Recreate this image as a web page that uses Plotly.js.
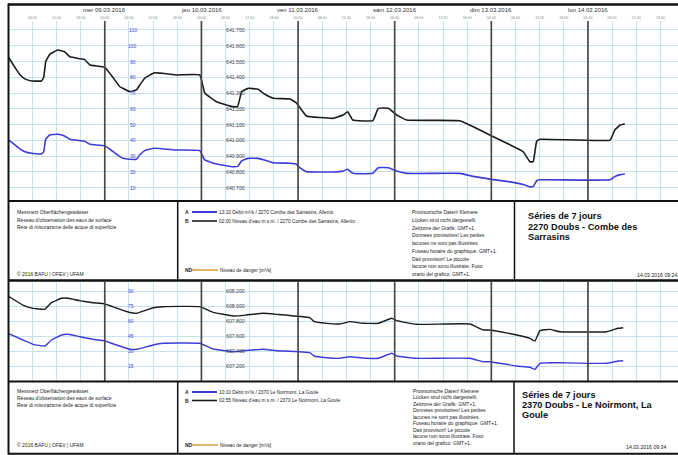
<!DOCTYPE html>
<html><head><meta charset="utf-8">
<script src="https://cdn.plot.ly/plotly-3.0.1.min.js"></script>
<style>html,body{margin:0;padding:0;background:#fff;overflow:hidden}#chart{width:678px;height:455px}</style>
</head><body><div id="chart"></div>
<script>
// ---------- DATA ----------
const upperTime = [
'2016-03-08 00:00','2016-03-08 02:00','2016-03-08 03:00','2016-03-08 04:10','2016-03-08 05:50','2016-03-08 08:15','2016-03-08 08:50','2016-03-08 09:20','2016-03-08 10:20','2016-03-08 12:20','2016-03-08 14:00','2016-03-08 15:20','2016-03-08 17:50','2016-03-08 19:00','2016-03-08 20:20',
'2016-03-09 00:00','2016-03-09 02:00','2016-03-09 03:45','2016-03-09 04:30','2016-03-09 06:15','2016-03-09 07:50','2016-03-09 08:40','2016-03-09 09:55','2016-03-09 12:20','2016-03-09 17:50','2016-03-09 23:35',
'2016-03-10 00:50','2016-03-10 03:45','2016-03-10 07:50','2016-03-10 09:00','2016-03-10 10:00','2016-03-10 11:35','2016-03-10 14:05','2016-03-10 15:40','2016-03-10 17:50','2016-03-10 22:00','2016-03-10 23:30',
'2016-03-11 00:25','2016-03-11 02:05','2016-03-11 08:40','2016-03-11 11:10','2016-03-11 12:20','2016-03-11 13:35','2016-03-11 18:35','2016-03-11 19:55','2016-03-11 22:25',
'2016-03-12 00:30','2016-03-12 03:00','2016-03-12 16:10','2016-03-12 19:30',
'2016-03-13 00:05','2016-03-13 03:50','2016-03-13 07:55','2016-03-13 09:35','2016-03-13 10:25','2016-03-13 11:15','2016-03-13 12:05',
'2016-03-14 05:30','2016-03-14 06:40','2016-03-14 08:00','2016-03-14 09:10'];
const upperFlow = [40.5,36.5,34.5,32.8,31.8,31.4,32.8,41,43.4,43.9,42.8,40.7,39.8,39.4,37.5,
36.6,33,29.7,28.6,28,28,30.7,33.5,35,33.9,33.5,
27.6,25,23.3,23.5,27,28.6,28.6,27.5,25.8,25.5,25,
22.7,20.2,20.0,20.5,21.7,19.1,19.1,22.7,22.7,
20.6,19.1,19.1,17.2,
15.3,14,12,10.6,10.8,14.4,15,
15,17,18.3,18.7];
const upperLevel = [641.53,641.45,641.415,641.39,641.377,641.377,641.40,641.50,641.545,641.573,641.562,641.53,641.518,641.512,641.478,
641.463,641.40,641.34,641.33,641.309,641.32,641.35,641.394,641.429,641.415,641.415,
641.30,641.245,641.214,641.215,641.31,641.33,641.324,641.294,641.267,641.262,641.24,
641.21,641.155,641.14,641.161,641.182,641.129,641.125,641.203,641.203,
641.161,641.129,641.125,641.087,
641.028,640.982,640.928,640.865,640.865,640.993,641.007,
641.002,641.066,641.098,641.104];

const lowerTime = [
'2016-03-08 00:00','2016-03-08 03:40','2016-03-08 06:10','2016-03-08 09:05','2016-03-08 10:45','2016-03-08 13:15','2016-03-08 14:55','2016-03-08 17:45','2016-03-08 21:05',
'2016-03-09 00:00','2016-03-09 02:55','2016-03-09 06:15','2016-03-09 07:55','2016-03-09 12:00','2016-03-09 14:30','2016-03-09 23:35',
'2016-03-10 02:55','2016-03-10 07:55','2016-03-10 11:10','2016-03-10 15:20','2016-03-10 18:40',
'2016-03-11 02:55','2016-03-11 04:00','2016-03-11 07:05','2016-03-11 10:25','2016-03-11 12:50','2016-03-11 16:00','2016-03-11 19:55','2016-03-11 23:15',
'2016-03-12 00:30','2016-03-12 05:25','2016-03-12 18:40','2016-03-12 22:00','2016-03-12 23:40',
'2016-03-13 06:15','2016-03-13 09:35','2016-03-13 10:50','2016-03-13 12:05','2016-03-13 14:35','2016-03-13 17:00',
'2016-03-14 04:40','2016-03-14 07:30','2016-03-14 08:45'];
const lowerFlow = [47.7,41,36.7,35,41,46,46.7,44.3,41.7,
40,36,31.7,31.7,36,37.7,37.7,
32,29.3,30.5,31.7,30.3,
28.3,25,23.3,22.7,24.3,23,22.7,27.7,
25,22.7,22.7,19.3,19.3,
15,13.7,11.7,17.7,18.3,18.3,
17.7,20,20.3];
const lowerLevel = [608.133,608.013,607.969,607.956,608.044,608.103,608.103,608.071,608.044,
608.027,607.973,607.913,607.903,607.977,607.991,607.991,
607.916,607.867,607.88,607.903,607.889,
607.844,607.791,607.769,607.76,607.791,607.771,607.769,607.836,
607.804,607.756,607.76,607.68,607.68,
607.613,607.569,607.533,607.671,607.689,607.657,
607.657,607.703,607.711];

const dayDates = ['2016-03-09','2016-03-10','2016-03-11','2016-03-12','2016-03-13','2016-03-14'];
const dayLabels = ['mer 09.03.2016','jeu 10.03.2016','ven 11.03.2016','sam 12.03.2016','dim 13.03.2016','lun 14.03.2016'];
const upperFlowTicks = [10,20,30,40,50,60,70,80,90,100,110];
const upperLevelTicks = [640.7,640.8,640.9,641.0,641.1,641.2,641.3,641.4,641.5,641.6,641.7];
const lowerFlowTicks = [15,30,45,60,75,90];
const lowerLevelTicks = [607.2,607.4,607.6,607.8,608.0,608.2];

const notesText = ['Provisorische Daten! Kleinere','Lücken sind nicht dargestellt.','Zeitzone der Grafik: GMT+1.',
 'Données provisoires! Les petites','lacunes ne sont pas illustrées.','Fuseau horaire du graphique: GMT+1.',
 'Dati provvisori! Le piccole','lacune non sono illustrate. Fuso','orario del grafico: GMT+1.'];
const networkText = ['Messnetz Oberflächengewässer','Réseau d\'observation des eaux de surface','Rete di misurazione delle acque di superficie'];
const copyrightText = '© 2016 BAFU | OFEV | UFAM';
const upperLegend = ['13:10 Débit m³/s / 2270 Combe des Sarrasins, Allenio','02:00 Niveau d\'eau m s.m. / 2270 Combe des Sarrasins, Allenio'];
const lowerLegend = ['10:10 Débit m³/s / 2370 Le Noirmont, La Goule','02:55 Niveau d\'eau m s.m. / 2370 Le Noirmont, La Goule'];
const dangerText = 'Niveau de danger [m³/s]';
const upperTitle = ['Séries de 7 jours','2270 Doubs - Combe des','Sarrasins'];
const lowerTitle = ['Séries de 7 jours','2370 Doubs - Le Noirmont, La','Goule'];
const upperStamp = '14.03.2016 09:24';
const lowerStamp = '14.03.2016 09:34';

// ---------- LAYOUT HELPERS ----------
const W = 678, H = 455;
const px = x => x / W;
const py = y => 1 - y / H;
const FONT = 'Liberation Sans, Arial, sans-serif';
const BLUE = '#3c3cd8', BLACK = '#1c1c1c', GRID = '#c6e3ee', DAY = '#4a4a4a';
const xRange = ['2016-03-08 00:05', '2016-03-14 22:22'];
const xDom = [px(8.5), 1];
const LS = {shape: 'spline', smoothing: 0.3};

const traces = [
 {x: upperTime, y: upperFlow, xaxis: 'x', yaxis: 'y', mode: 'lines', line: Object.assign({color: BLUE, width: 1.6}, LS), hoverinfo: 'skip'},
 {x: upperTime, y: upperLevel, xaxis: 'x', yaxis: 'y2', mode: 'lines', line: Object.assign({color: BLACK, width: 1.6}, LS), hoverinfo: 'skip'},
 {x: lowerTime, y: lowerFlow, xaxis: 'x2', yaxis: 'y3', mode: 'lines', line: Object.assign({color: BLUE, width: 1.4}, LS), hoverinfo: 'skip'},
 {x: lowerTime, y: lowerLevel, xaxis: 'x2', yaxis: 'y4', mode: 'lines', line: Object.assign({color: BLACK, width: 1.4}, LS), hoverinfo: 'skip'}
];

const shapes = [];
const annotations = [];
const hline = (y, x0, x1, w) => shapes.push({type: 'line', xref: 'paper', yref: 'paper', x0: px(x0), x1: px(x1), y0: py(y), y1: py(y), line: {color: '#111', width: w}});
const vline = (x, y0, y1, w) => shapes.push({type: 'line', xref: 'paper', yref: 'paper', x0: px(x), x1: px(x), y0: py(y0), y1: py(y1), line: {color: '#111', width: w}});
const txt = (x, y, t, size, opts) => annotations.push(Object.assign({xref: 'paper', yref: 'paper', x: px(x), y: py(y), text: t, showarrow: false, xanchor: 'left', yanchor: 'middle', font: {family: FONT, size: size, color: '#222'}}, opts || {}));

// day lines
dayDates.forEach(d => {
  shapes.push({type: 'line', xref: 'x', yref: 'y domain', x0: d, x1: d, y0: 0, y1: 1, line: {color: DAY, width: 1.7}});
  shapes.push({type: 'line', xref: 'x2', yref: 'y3 domain', x0: d, x1: d, y0: 0, y1: 1, line: {color: DAY, width: 1.7}});
});
// day header labels
dayDates.forEach((d, i) => annotations.push({xref: 'x', yref: 'paper', x: d, y: py(10), text: dayLabels[i], showarrow: false, xanchor: 'center', yanchor: 'middle', font: {family: FONT, size: 6, color: '#333'}}));

// axis labels inside plots
upperFlowTicks.forEach(v => annotations.push({xref: 'paper', yref: 'y', x: px(132.5), y: v, text: String(v), showarrow: false, xanchor: 'center', yanchor: 'middle', font: {family: FONT, size: 5, color: '#4444dd'}}));
upperLevelTicks.forEach(v => annotations.push({xref: 'paper', yref: 'y2', x: px(224), y: v, text: v.toFixed(3), showarrow: false, xanchor: 'left', yanchor: 'middle', font: {family: FONT, size: 5.2, color: '#444'}}));
lowerFlowTicks.forEach(v => annotations.push({xref: 'paper', yref: 'y3', x: px(131), y: v, text: String(v), showarrow: false, xanchor: 'center', yanchor: 'middle', font: {family: FONT, size: 5, color: '#4444dd'}}));
lowerLevelTicks.forEach(v => annotations.push({xref: 'paper', yref: 'y4', x: px(224), y: v, text: v.toFixed(3), showarrow: false, xanchor: 'left', yanchor: 'middle', font: {family: FONT, size: 5.2, color: '#444'}}));

// frame
hline(4.5, 8, 678, 2.5);
vline(8.5, 3.5, 454.5, 2);
hline(201, 8, 678, 2);
vline(177.7, 201, 280.5, 1.5);
vline(514.5, 201, 280.5, 1.5);
hline(280.5, 8, 678, 2.5);
hline(381.5, 8, 678, 2);
vline(177.7, 381.5, 454, 1.5);
vline(514, 381.5, 454, 1.5);
hline(453.8, 8, 678, 2);

// info boxes
function infoBox(o) {
  networkText.forEach((t, i) => txt(15, o.netY + i * o.netStep, t, 5));
  txt(15, o.copyY, copyrightText, 5);
  txt(182.5, o.aY, '<b>A</b>', 5);
  txt(182.5, o.bY, '<b>B</b>', 5);
  shapes.push({type: 'line', xref: 'paper', yref: 'paper', x0: px(192), x1: px(217), y0: py(o.aY), y1: py(o.aY), line: {color: BLUE, width: 2}});
  shapes.push({type: 'line', xref: 'paper', yref: 'paper', x0: px(192), x1: px(217), y0: py(o.bY), y1: py(o.bY), line: {color: BLACK, width: 1.6}});
  txt(217, o.aY, o.legend[0], 4.8);
  txt(217, o.bY, o.legend[1], 4.8);
  txt(182.5, o.ndY, '<b>ND</b>', 5);
  shapes.push({type: 'line', xref: 'paper', yref: 'paper', x0: px(192), x1: px(218), y0: py(o.ndY), y1: py(o.ndY), line: {color: '#d6a445', width: 1.6}});
  txt(218, o.ndY, dangerText, 4.8);
  notesText.forEach((t, i) => txt(o.noteX, o.noteY + i * o.noteStep, t, 5));
  o.title.forEach((t, i) => txt(o.titleX, o.titleY + i * o.titleStep, '<b>' + t + '</b>', 9.2, {font: {family: FONT, size: 9.2, color: '#111'}}));
  txt(o.stampX, o.stampY, o.stamp, 5.2);
}
infoBox({netY: 212, netStep: 7.5, copyY: 274, aY: 212, bY: 221, ndY: 270, legend: upperLegend,
  noteX: 410, noteY: 212, noteStep: 7.75, title: upperTitle, titleX: 526, titleY: 216, titleStep: 10.5,
  stamp: upperStamp, stampX: 635, stampY: 275});
infoBox({netY: 391, netStep: 7, copyY: 444.5, aY: 392, bY: 400.5, ndY: 445, legend: lowerLegend,
  noteX: 411, noteY: 391, noteStep: 6.45, title: lowerTitle, titleX: 520, titleY: 394.5, titleStep: 10,
  stamp: lowerStamp, stampX: 624, stampY: 447});

const baseX = {type: 'date', range: xRange, domain: xDom, dtick: 21600000, tick0: '2016-03-08 00:00',
  showgrid: true, gridcolor: GRID, gridwidth: 1, zeroline: false, showline: false, ticks: '', fixedrange: true};
const layout = {
  width: W, height: H, margin: {l: 0, r: 0, t: 0, b: 0}, paper_bgcolor: '#fff', plot_bgcolor: '#fff', showlegend: false,
  xaxis: Object.assign({}, baseX, {anchor: 'y', side: 'top', tickformat: '%H:%M', showticklabels: true, tickfont: {family: FONT, size: 3.6, color: '#888'}}),
  xaxis2: Object.assign({}, baseX, {anchor: 'y3', showticklabels: false}),
  yaxis: {domain: [py(200), py(21)], range: [2.2, 115.7], tickvals: upperFlowTicks, showticklabels: false, showgrid: true, gridcolor: GRID, zeroline: false, ticks: '', anchor: 'x', fixedrange: true},
  yaxis2: {overlaying: 'y', anchor: 'x', range: [640.622, 641.757], showgrid: false, showticklabels: false, zeroline: false, ticks: '', fixedrange: true},
  yaxis3: {domain: [py(381), py(282)], range: [0, 99], tickvals: lowerFlowTicks, showticklabels: false, showgrid: true, gridcolor: GRID, zeroline: false, ticks: '', anchor: 'x2', fixedrange: true},
  yaxis4: {overlaying: 'y3', anchor: 'x2', range: [607, 608.32], showgrid: false, showticklabels: false, zeroline: false, ticks: '', fixedrange: true},
  shapes: shapes, annotations: annotations
};
Plotly.newPlot('chart', traces, layout, {displayModeBar: false, staticPlot: true});
</script></body></html>
